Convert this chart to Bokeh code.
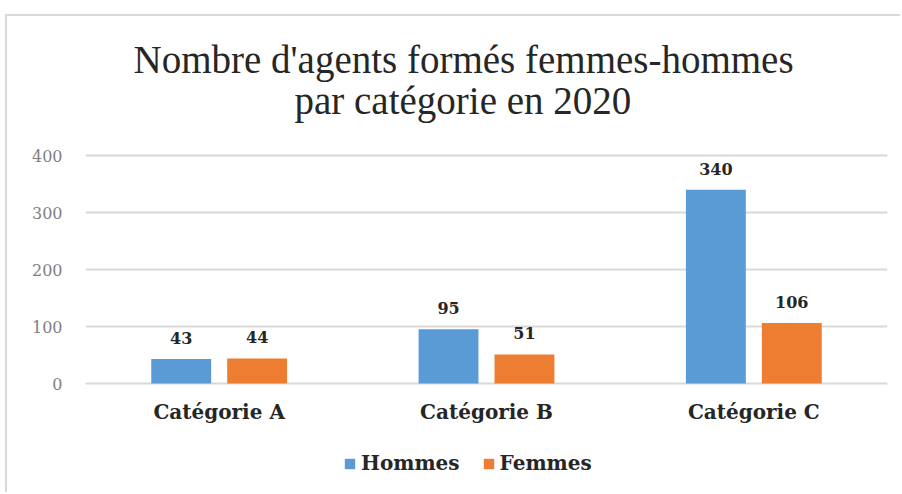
from bokeh.plotting import figure
from bokeh.models import (FactorRange, Range1d, Legend, LegendItem, Title,
                          ColumnDataSource, FixedTicker)
from bokeh.transform import dodge
from bokeh.core.properties import value
from bokeh.embed import file_html
from bokeh.resources import INLINE

categories = ["Catégorie A", "Catégorie B", "Catégorie C"]
hommes = [43, 95, 340]
femmes = [44, 51, 106]
y_ticks = [0, 100, 200, 300, 400]
title_lines = ["Nombre d'agents formés femmes-hommes", "par catégorie en 2020"]
series_names = ["Hommes", "Femmes"]

BLUE = "#5b9bd5"
ORANGE = "#ed7d31"
TFONT = "Liberation Serif"
FONT = "DejaVu Serif"
DARK = "#262626"

src = ColumnDataSource(dict(cat=categories, hommes=hommes, femmes=femmes,
                            zero=[0] * len(categories),
                            hl=[str(v) for v in hommes], fl=[str(v) for v in femmes]))

# plot area reaches down to the legend; the value axis runs 0..400
p = figure(x_range=FactorRange(*categories), y_range=Range1d(-191.2, 463.2),
           width=895, height=478, output_backend="svg", toolbar_location=None,
           min_border_left=80, min_border_right=13, min_border_top=105,
           min_border_bottom=0)
p.outline_line_color = None
p.background_fill_color = None
p.border_fill_color = None
p.styles = {"margin-left": "5px", "margin-top": "14px",
            "box-shadow": "inset 2px 2px 0 0 #d9d9d9"}

off = 0.142
bw = 0.224
r1 = p.vbar(x=dodge("cat", -off, range=p.x_range), top="hommes", width=bw,
            source=src, color=BLUE, line_color=None)
r2 = p.vbar(x=dodge("cat", off, range=p.x_range), top="femmes", width=bw,
            source=src, color=ORANGE, line_color=None)

for col, lab, o in (("hommes", "hl", -off), ("femmes", "fl", off)):
    p.text(x=dodge("cat", o, range=p.x_range), y=col, text=lab, source=src,
           text_align="center", text_baseline="middle", y_offset=-21,
           text_font=value(FONT), text_font_style="bold",
           text_font_size="16px", text_color=DARK)

# category labels under the baseline
p.text(x="cat", y="zero", text="cat", source=src, text_align="center",
       text_baseline="middle", y_offset=28, text_font=value(FONT),
       text_font_style="bold", text_font_size="20px", text_color=DARK)

p.xgrid.grid_line_color = None
p.ygrid.grid_line_color = "#d9d9d9"
p.ygrid.grid_line_width = 2
p.yaxis.ticker = FixedTicker(ticks=y_ticks)
p.ygrid.ticker = FixedTicker(ticks=y_ticks)
p.yaxis.axis_line_color = None
p.yaxis.major_tick_line_color = None
p.yaxis.minor_tick_line_color = None
p.yaxis.major_tick_out = 0
p.yaxis.minor_tick_out = 0
p.yaxis.major_label_standoff = 23
p.yaxis.major_label_text_font = FONT
p.yaxis.major_label_text_font_size = "16px"
p.yaxis.major_label_text_color = "#808080"
p.xaxis.visible = False

# two-line title, lower line added first (closest to the frame)
p.add_layout(Title(text=title_lines[1], align="left", offset=209, standoff=-4,
                   text_font=TFONT, text_font_size="39px", text_font_style="normal",
                   text_color=DARK), "above")
p.add_layout(Title(text=title_lines[0], align="left", offset=48, standoff=-5,
                   text_font=TFONT, text_font_size="39px", text_font_style="normal",
                   text_color=DARK), "above")

legend = Legend(items=[LegendItem(label=series_names[0], renderers=[r1]),
                       LegendItem(label=series_names[1], renderers=[r2])],
                orientation="horizontal", location=(258, 17),
                padding=0, margin=0, border_line_color=None,
                background_fill_alpha=0, glyph_width=13, glyph_height=13,
                label_standoff=5, spacing=22, label_height=20,
                label_text_font=FONT, label_text_font_style="bold",
                label_text_font_size="20px", label_text_color=DARK)
p.add_layout(legend)

open("out.html", "w").write(file_html(p, INLINE))
